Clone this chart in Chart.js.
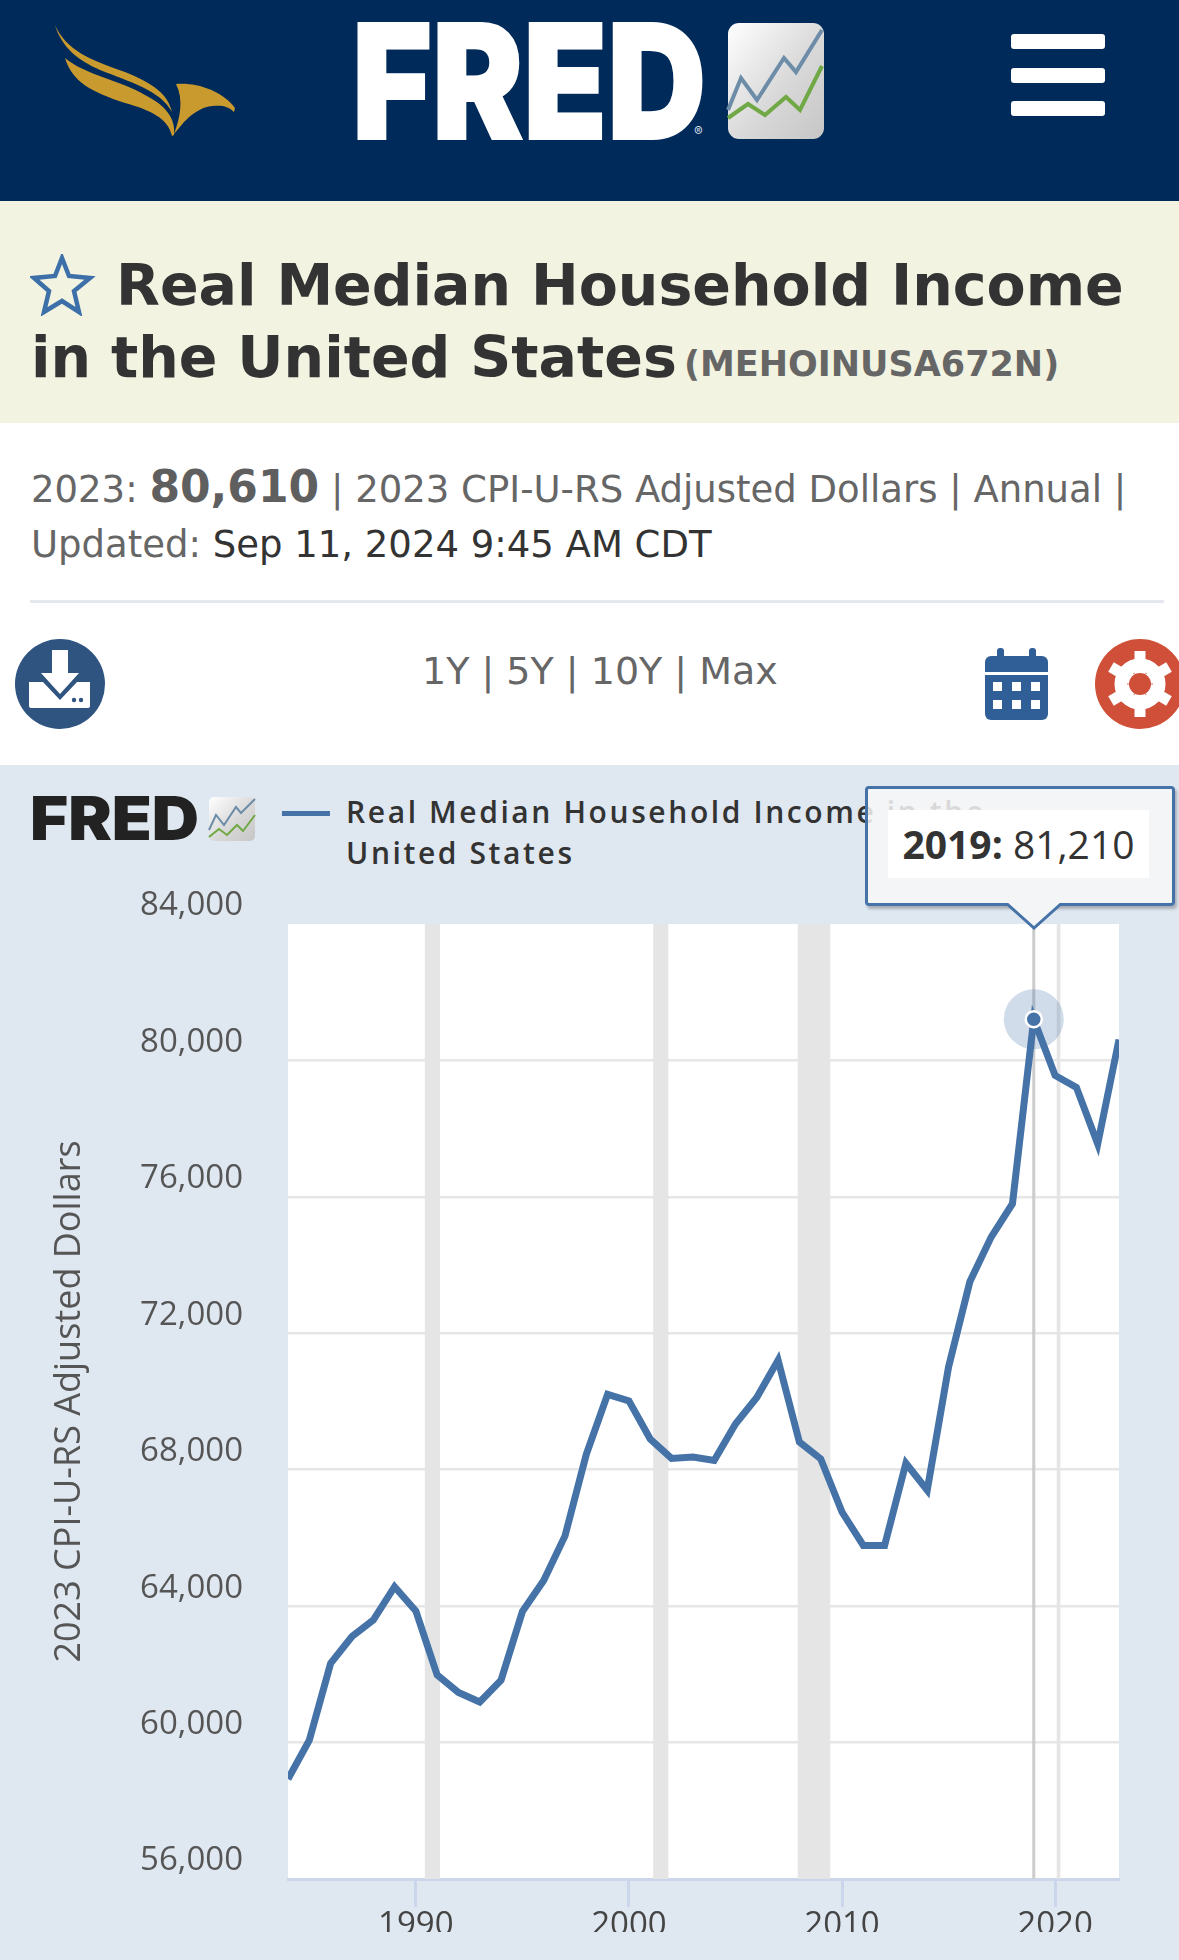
<!DOCTYPE html>
<html>
<head>
<meta charset="utf-8">
<title>Real Median Household Income in the United States</title>
<script src="https://cdn.jsdelivr.net/npm/chart.js@4"></script>
<style>
  html, body { margin: 0; padding: 0; background: #fff; }
  #page { position: relative; width: 1179px; height: 1960px; overflow: hidden; font-family: "DejaVu Sans", sans-serif; }
  #page > * { position: absolute; }
  .head { left: 0; top: 0; width: 1179px; height: 201px; background: #002a5a; }
  .titlebar { left: 0; top: 201px; width: 1179px; height: 222px; background: #f2f3e0; }
  .t { white-space: nowrap; margin: 0; }
  .title { font-weight: bold; font-size: 57px; color: #333; line-height: 72px; }
  .sid { font-size: 35px; font-weight: bold; color: #666; }
  .meta { font-size: 37px; color: #666; line-height: 58px; }
  .meta b { font-size: 44px; color: #5f5f5f; }
  .meta span { color: #333; }
  .rule { left: 30px; top: 600px; width: 1134px; height: 3px; background: #e4e8ee; }
  .range { left: 422px; top: 649px; font-size: 38px; color: #666; }
  .panel { left: 0; top: 765px; width: 1179px; height: 1195px; background: #dfe7f0; }
  .legline { left: 282px; top: 811px; width: 48px; height: 5px; background: #4572a7; }
  .legtext { left: 346px; top: 791px; font: 600 30px/41px "Open Sans", sans-serif; letter-spacing: 2.6px; color: #333; }
  canvas { left: 0; top: 765px; }
  #tip { display: none; box-sizing: border-box; width: 310px; height: 120px; background: rgba(247,247,247,.85); border: 3px solid #4572a7; border-radius: 4px; box-shadow: 2px 3px 3px rgba(0,0,0,.25); font: 39px "Open Sans", sans-serif; color: #333; }
  #tip .txt { position: absolute; left: 20px; top: 21px; width: 261px; height: 68px; line-height: 68px; background: #fff; text-align: center; white-space: nowrap; }
  #caret { display: none; }
</style>
</head>
<body>
<div id="page">
  <div class="head"></div>
  <svg style="left:0;top:0" width="1179" height="201">
    <!-- eagle -->
    <path fill="#c99a2e" d="M55 25C66 50 90 60 125 72C155 84 168 95 172 112C160 90 130 82 100 70C78 60 62 48 55 25Z"/>
    <path fill="#c99a2e" d="M65 58C85 75 120 80 145 95C165 105 176 118 174 135L172 136C168 118 150 110 125 103C92 92 72 82 65 58Z"/>
    <path fill="#c99a2e" d="M176 84C195 82 222 90 235 108L234 112C228 106 222 105 212 106C200 107 190 116 184 122L174 134C180 118 184 100 176 84Z"/>
    <!-- wordmark -->
    <text x="352" y="139" font-family="Inter, sans-serif" font-weight="900" font-size="160" fill="#fff" stroke="#fff" stroke-width="2" textLength="354" lengthAdjust="spacingAndGlyphs">FRED</text>
    <text x="694" y="136" font-family="Inter, sans-serif" font-size="13" fill="#cdd8e6">®</text>
    <defs>
      <linearGradient id="g" x1="0" y1="0" x2="1" y2="1"><stop offset="0" stop-color="#fff"/><stop offset=".55" stop-color="#d9d9d9"/><stop offset="1" stop-color="#c6c6c6"/></linearGradient>
    </defs>
    <rect x="728" y="23" width="96" height="116" rx="11" fill="url(#g)"/>
    <polyline points="728,110 741,78 757,100 784,58 796,72 822,30" fill="none" stroke="#6d8ca8" stroke-width="4"/>
    <polyline points="728,118 748,104 765,115 786,97 800,110 822,66" fill="none" stroke="#6fa844" stroke-width="4"/>
    <!-- hamburger -->
    <rect x="1011" y="34" width="94" height="15" rx="3" fill="#fff"/>
    <rect x="1011" y="68" width="94" height="15" rx="3" fill="#fff"/>
    <rect x="1011" y="101" width="94" height="15" rx="3" fill="#fff"/>
  </svg>
  <div class="titlebar"></div>
  <svg style="left:30px;top:254px" width="66" height="62"><polygon points="32,4 39,22 60,24 44,37 49,58 32,47 14,58 19,37 4,24 25,22" fill="none" stroke="#3d6fa8" stroke-width="4.5"/></svg>
  <p class="t title" style="left:116px;top:249px">Real Median Household Income</p>
  <p class="t title" style="left:31px;top:321px">in the United States</p>
  <p class="t sid" style="left:684px;top:344px">(MEHOINUSA672N)</p>
  <p class="t meta" style="left:31px;top:458px">2023: <b>80,610</b> | 2023 CPI-U-RS Adjusted Dollars | Annual |</p>
  <p class="t meta" style="left:31px;top:516px">Updated: <span>Sep 11, 2024 9:45 AM CDT</span></p>
  <div class="rule"></div>
  <svg style="left:0;top:630px" width="1179" height="110">
    <circle cx="60" cy="54" r="45" fill="#2f5480"/>
    <path d="M52 20H68V43H79L60 64L41 43H52Z" fill="#fff"/>
    <path d="M29 52H43L60 70L77 52H90V76Q90 78 87 78H32Q29 78 29 76Z" fill="#fff"/>
    <circle cx="74" cy="70" r="2.2" fill="#2f5480"/><circle cx="81" cy="70" r="2.2" fill="#2f5480"/>
    <rect x="985" y="26" width="63" height="64" rx="6" fill="#2f5f96"/>
    <rect x="997" y="18" width="7" height="16" rx="3" fill="#2f5f96"/><rect x="1029" y="18" width="7" height="16" rx="3" fill="#2f5f96"/>
    <rect x="985" y="42" width="63" height="3" fill="#fff"/>
    <g fill="#fff"><rect x="993" y="52" width="9" height="9"/><rect x="1012" y="52" width="9" height="9"/><rect x="1031" y="52" width="9" height="9"/><rect x="993" y="70" width="9" height="9"/><rect x="1012" y="70" width="9" height="9"/><rect x="1031" y="70" width="9" height="9"/></g>
    <circle cx="1140" cy="54" r="45" fill="#cf4f38"/>
    <circle cx="1140" cy="54" r="19" fill="none" stroke="#fff" stroke-width="13"/>
    <g stroke="#fff" stroke-width="11"><line x1="1140" y1="21" x2="1140" y2="87"/><line x1="1111" y1="37" x2="1169" y2="71"/><line x1="1111" y1="71" x2="1169" y2="37"/></g>
    <circle cx="1140" cy="54" r="11" fill="#cf4f38"/>
  </svg>
  <p class="t range">1Y | 5Y | 10Y | Max</p>
  <div class="panel"></div>
  <svg style="left:0;top:765px" width="270" height="90">
    <text x="30" y="75" font-family="Inter, sans-serif" font-weight="900" font-size="60" fill="#222" textLength="169" lengthAdjust="spacingAndGlyphs">FRED</text>
    <rect x="209" y="32" width="46" height="44" rx="5" fill="url(#g)"/>
    <polyline points="209,65 216,50 224,60 236,42 241,48 255,34" fill="none" stroke="#6d8ca8" stroke-width="2"/>
    <polyline points="209,72 219,64 227,70 237,60 243,66 255,50" fill="none" stroke="#6fa844" stroke-width="2"/>
  </svg>
  <div class="legline"></div>
  <p class="t legtext">Real Median Household Income in the<br>United States</p>
  <canvas id="chart" width="1179" height="1195" style="width:1179px;height:1195px"></canvas>
  <div id="tip"><div class="txt"></div></div>
  <svg id="caret" width="60" height="30"><polygon points="0,0 28,25 56,0" fill="#f4f5f6" stroke="none"/><polyline points="0,0 28,25 56,0" fill="none" stroke="#4572a7" stroke-width="3"/></svg>
</div>
<script>
var years = [1984,1985,1986,1987,1988,1989,1990,1991,1992,1993,1994,1995,1996,1997,1998,1999,2000,2001,2002,2003,2004,2005,2006,2007,2008,2009,2010,2011,2012,2013,2014,2015,2016,2017,2018,2019,2020,2021,2022,2023];
var income = [58930,60070,62320,63110,63590,64570,63860,61980,61470,61190,61830,63840,64750,66060,68450,70210,70020,68900,68330,68370,68270,69340,70120,71210,68810,68320,66760,65780,65780,68190,67400,71010,73510,74820,75800,81210,79560,79210,77550,80610];
var yTicks = [56000,60000,64000,68000,72000,76000,80000,84000];
var xTicks = [1990,2000,2010,2020];
var recessionStart = [1990.42,2001.14,2007.92,2020.08];
var recessionEnd = [1991.13,2001.85,2009.45,2020.25];
var pinnedYear = 2019;

var lineColor = "#4572a7";
var axisFont = '"Open Sans", sans-serif';

// white plot area, recession bands, crosshair and halo, all placed through the scales
var plotBack = {
  id: "plotBack",
  beforeDraw: function (chart) {
    var a = chart.chartArea, ctx = chart.ctx;
    ctx.save();
    ctx.fillStyle = "#fff";
    ctx.fillRect(a.left, a.top, a.width, a.height);
    ctx.restore();
  },
  beforeDatasetsDraw: function (chart) {
    var a = chart.chartArea, ctx = chart.ctx, x = chart.scales.x, y = chart.scales.y;
    ctx.save();
    ctx.fillStyle = "#e5e5e5";
    recessionStart.forEach(function (s, i) {
      var l = x.getPixelForValue(s), r = x.getPixelForValue(recessionEnd[i]);
      ctx.fillRect(l, a.top, r - l, a.height);
    });
    var px = x.getPixelForValue(pinnedYear);
    var py = y.getPixelForValue(income[years.indexOf(pinnedYear)]);
    ctx.strokeStyle = "#cccccc";
    ctx.lineWidth = 3;
    ctx.beginPath();
    ctx.moveTo(px, a.top);
    ctx.lineTo(px, a.bottom);
    ctx.stroke();
    ctx.fillStyle = "rgba(69,114,167,.25)";
    ctx.beginPath();
    ctx.arc(px, py, 30, 0, Math.PI * 2);
    ctx.fill();
    ctx.restore();
  }
};

function showTip(context) {
  var tip = document.getElementById("tip"), caret = document.getElementById("caret");
  var m = context.tooltip;
  if (!m.dataPoints || !m.dataPoints.length) return;
  var p = m.dataPoints[0];
  tip.querySelector(".txt").innerHTML = "<b>" + p.parsed.x + ":</b> " + p.parsed.y.toLocaleString("en-US");
  tip.style.display = "block";
  tip.style.left = "865px";
  tip.style.top = "786px";
  caret.style.display = "block";
  caret.style.left = (p.element.x - 28) + "px";
  caret.style.top = "903px";
}

var chart = new Chart(document.getElementById("chart").getContext("2d"), {
  type: "line",
  plugins: [plotBack],
  data: {
    datasets: [{
      label: "Real Median Household Income in the United States",
      data: years.map(function (yr, i) { return { x: yr, y: income[i] }; }),
      borderColor: lineColor,
      backgroundColor: lineColor,
      borderWidth: 7,
      borderJoinStyle: "miter",
      borderCapStyle: "butt",
      tension: 0,
      clip: 0,
      pointRadius: 0,
      pointHoverRadius: 8,
      pointHoverBackgroundColor: lineColor,
      pointHoverBorderColor: "#fff",
      pointHoverBorderWidth: 2.5
    }]
  },
  options: {
    responsive: false,
    animation: false,
    events: [],
    layout: { padding: { top: 159, right: 60, bottom: 0, left: 0 } },
    plugins: {
      legend: { display: false },
      title: { display: false },
      tooltip: { enabled: false, external: showTip }
    },
    scales: {
      x: {
        type: "linear",
        min: 1984,
        max: 2023,
        afterBuildTicks: function (s) { s.ticks = xTicks.map(function (v) { return { value: v }; }); },
        afterFit: function (s) { s.height = 53; },
        grid: { drawOnChartArea: false, tickLength: 28, tickColor: "#ccd6eb", tickWidth: 3 },
        border: { color: "#ccd6eb", width: 3 },
        ticks: {
          color: "#444",
          padding: -1,
          maxRotation: 0,
          autoSkip: false,
          font: { family: axisFont, size: 33 },
          callback: function (v) { return String(v); }
        }
      },
      y: {
        min: 56000,
        max: 84000,
        afterBuildTicks: function (s) { s.ticks = yTicks.map(function (v) { return { value: v }; }); },
        afterFit: function (s) { s.width = 288; },
        grid: {
          drawTicks: false,
          lineWidth: 2.5,
          color: function (c) {
            var v = c.tick && c.tick.value;
            return v === 56000 || v === 84000 ? "rgba(0,0,0,0)" : "#e6e6e6";
          }
        },
        border: { display: false },
        title: {
          display: true,
          text: "2023 CPI-U-RS Adjusted Dollars",
          color: "#555",
          font: { family: axisFont, size: 36 },
          padding: { top: 48, bottom: 0 }
        },
        ticks: {
          color: "#555",
          padding: 45,
          autoSkip: false,
          font: { family: axisFont, size: 33, lineHeight: "36px" },
          // empty second line lifts the label above its grid line, as on the original
          callback: function (v) { return [v.toLocaleString("en-US"), ""]; }
        }
      }
    }
  }
});

var pinned = [{ datasetIndex: 0, index: years.indexOf(pinnedYear) }];
chart.setActiveElements(pinned);
chart.tooltip.setActiveElements(pinned, { x: 0, y: 0 });
chart.update();
</script>
</body>
</html>
